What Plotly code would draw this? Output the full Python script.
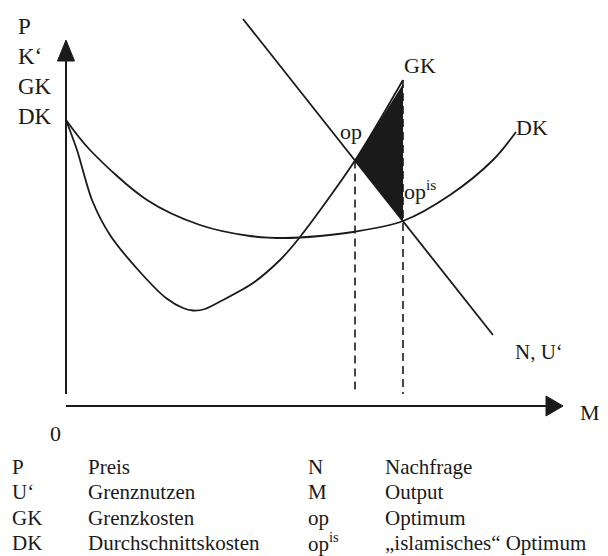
import plotly.graph_objects as go

# Economic diagram data (M = output, P = price), units arbitrary
gk_m = [0, 11, 26, 44, 74, 100, 117, 127, 139, 157, 187, 214, 234, 289, 337]
gk_p = [286, 256, 206, 171, 134, 108, 98, 95.5, 97, 106, 123, 146, 169, 245.4, 326]

dk_m = [0, 24, 81, 134, 184, 219, 254, 287, 337, 384, 427, 450]
dk_p = [286, 256, 206, 181, 170, 168, 170, 174, 185, 211, 246, 274]

n_m = [177, 427]
n_p = [387, 71]

op_m = 289      # optimum
opis_m = 337    # "islamisches" optimum

legend_left = [("P", "Preis"), ("U‘", "Grenznutzen"), ("GK", "Grenzkosten"), ("DK", "Durchschnittskosten")]
legend_right = [("N", "Nachfrage"), ("M", "Output"), ("op", "Optimum"), ("op<sup>is</sup>", "„islamisches“ Optimum")]

INK = "#1a1a1a"
FONT = "Liberation Serif"


def n_at(m):
    return n_p[0] + (n_p[1] - n_p[0]) * (m - n_m[0]) / (n_m[1] - n_m[0])


def gk_at(m):
    for i in range(len(gk_m) - 1):
        if gk_m[i] <= m <= gk_m[i + 1]:
            t = (m - gk_m[i]) / (gk_m[i + 1] - gk_m[i])
            return gk_p[i] + t * (gk_p[i + 1] - gk_p[i])
    return gk_p[-1]


fig = go.Figure()

# shaded triangle between GK and N from op to op^is
tri_x = [op_m, opis_m, opis_m, op_m]
tri_y = [n_at(op_m), gk_at(opis_m) - 4, n_at(opis_m), n_at(op_m)]
fig.add_trace(go.Scatter(x=tri_x, y=tri_y, mode="lines", fill="toself",
                         fillcolor=INK, line=dict(width=0), hoverinfo="skip"))

fig.add_trace(go.Scatter(x=gk_m, y=gk_p, mode="lines", line=dict(color=INK, width=1.8, shape="spline", smoothing=0.8)))
fig.add_trace(go.Scatter(x=dk_m, y=dk_p, mode="lines", line=dict(color=INK, width=1.8, shape="spline", smoothing=0.9)))
fig.add_trace(go.Scatter(x=n_m, y=n_p, mode="lines", line=dict(color=INK, width=1.8)))

# dashed drop lines
fig.add_trace(go.Scatter(x=[op_m, op_m], y=[n_at(op_m), 12], mode="lines",
                         line=dict(color=INK, width=1.6, dash="8px,5px")))
fig.add_trace(go.Scatter(x=[opis_m, opis_m], y=[gk_at(opis_m), 12], mode="lines",
                         line=dict(color=INK, width=1.6, dash="8px,5px")))

shapes = [
    dict(type="line", x0=0, y0=12, x1=0, y1=348, line=dict(color=INK, width=2)),
    dict(type="path", path="M -8.5 345 L 0 366 L 8.5 345 Z", fillcolor=INK, line=dict(color=INK, width=1)),
    dict(type="line", x0=0, y0=0, x1=482, y1=0, line=dict(color=INK, width=2.2)),
    dict(type="path", path="M 480 10 L 497 0 L 480 -10 Z", fillcolor=INK, line=dict(color=INK, width=1)),
]

ann = []


def label(x, y, text, size=21, anchor="left"):
    ann.append(dict(x=x, y=y, text=text, showarrow=False, xanchor=anchor, yanchor="middle",
                    font=dict(family=FONT, size=size, color=INK)))


# axis labels (top-left)
for i, t in enumerate(["P", "K‘", "GK", "DK"]):
    label(-50, 380 - i * 30, t, size=23)

label(-18, -27, "0", size=22)
label(512, -6, "M", size=22)
label(336, 341, "GK", size=22)
label(272, 275, "op", size=22)
label(336, 216, "op<sup>is</sup>", size=22)
label(448, 279, "DK", size=22)
label(447, 54, "N, U‘", size=21)

# legend
for i, (a, b) in enumerate(legend_left):
    yy = -61 - i * 25.3
    label(-56, yy, a, size=21)
    label(20, yy, b, size=21)
for i, (a, b) in enumerate(legend_right):
    yy = -61 - i * 25.3
    label(240, yy, a, size=21)
    label(317, yy, b, size=21)

fig.update_layout(
    width=608, height=556, margin=dict(l=0, r=0, t=0, b=0),
    paper_bgcolor="white", plot_bgcolor="white", showlegend=False,
    xaxis=dict(range=[-66, 542], visible=False, fixedrange=True),
    yaxis=dict(range=[-150, 406], visible=False, fixedrange=True),
    shapes=shapes, annotations=ann,
)

fig.write_html("out.html", config={"displayModeBar": False},
               post_script="document.body.style.margin='0';document.body.style.overflow='hidden';")
